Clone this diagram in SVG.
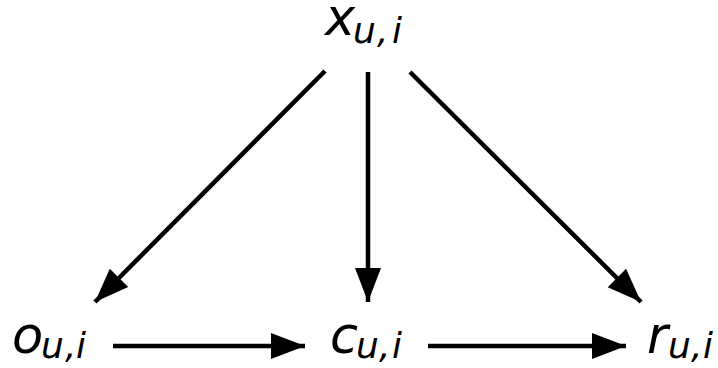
<svg xmlns="http://www.w3.org/2000/svg" width="718" height="368" viewBox="0 0 718 368">
  <style>
    .lbl { font-family: "DejaVu Sans", Verdana, sans-serif; font-style: italic; fill: #000; font-size: 51px; }
    .sub { font-size: 36px; }
    .edge { stroke: #000; stroke-width: 4.5; fill: none; marker-end: url(#head); }
  </style>
  <defs>
    <!-- filled triangular arrowhead, tip at the line end -->
    <marker id="head" markerUnits="userSpaceOnUse" markerWidth="36" markerHeight="30" viewBox="0 -15 36 30" refX="34" refY="0" orient="auto">
      <path d="M0,-13 L34,0 L0,13 Z" fill="#000"/>
    </marker>
  </defs>

  <g id="edges">
    <line class="edge" x1="325" y1="71" x2="95" y2="302"/>
    <line class="edge" x1="368" y1="72" x2="368" y2="302"/>
    <line class="edge" x1="410" y1="72" x2="641" y2="302"/>
    <line class="edge" x1="113" y1="346" x2="305" y2="346"/>
    <line class="edge" x1="428" y1="346" x2="626" y2="346"/>
  </g>

  <g id="x">
    <text class="lbl" x="325" y="35">x<tspan class="sub" x="353" dy="8">u</tspan><tspan class="sub" x="377">,</tspan><tspan class="sub" x="392">i</tspan></text>
  </g>
  <g id="o">
    <text class="lbl" x="12" y="353">o<tspan class="sub" x="41" dy="5">u</tspan><tspan class="sub" x="65">,</tspan><tspan class="sub" x="76">i</tspan></text>
  </g>
  <g id="c">
    <text class="lbl" x="330" y="353">c<tspan class="sub" x="356" dy="5">u</tspan><tspan class="sub" x="379">,</tspan><tspan class="sub" x="392">i</tspan></text>
  </g>
  <g id="r">
    <text class="lbl" x="647" y="353">r<tspan class="sub" x="668" dy="5">u</tspan><tspan class="sub" x="691">,</tspan><tspan class="sub" x="703">i</tspan></text>
  </g>
</svg>
